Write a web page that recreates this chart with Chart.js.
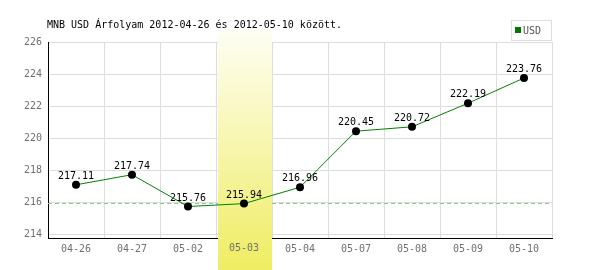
<!DOCTYPE html>
<html>
<head>
<meta charset="utf-8">
<script src="https://cdn.jsdelivr.net/npm/chart.js@4"></script>
<style>
  html, body { margin: 0; padding: 0; background: #fff; }
  #wrap { width: 600px; height: 270px; }
</style>
</head>
<body>
<div id="wrap"><canvas id="chart" width="600" height="270"></canvas></div>
<script>
// chart data
const dates = ['04-26', '04-27', '05-02', '05-03', '05-04', '05-07', '05-08', '05-09', '05-10'];
const usdRates = [217.11, 217.74, 215.76, 215.94, 216.96, 220.45, 220.72, 222.19, 223.76];
const yTicks = [214, 216, 218, 220, 222, 224, 226];
const highlightDate = '05-03';
const refLevel = 216;
const titleText = 'MNB USD Árfolyam 2012-04-26 és 2012-05-10 között.';
const seriesName = 'USD';

const MONO = '"DejaVu Sans Mono", "Liberation Mono", monospace';
const TICK_COLOR = '#707070';

// highlight band + dashed reference line, under the line
const bandPlugin = {
    id: 'band',
    beforeDatasetsDraw(chart) {
        const { ctx, chartArea, scales } = chart;
        const y = scales.y;

        // dashed line
        const yy = Math.round(y.getPixelForValue(refLevel)) + 0.5;
        ctx.save();
        ctx.strokeStyle = '#92c892';
        ctx.lineWidth = 1;
        ctx.setLineDash([4, 3]);
        ctx.beginPath();
        ctx.moveTo(chartArea.left, yy);
        ctx.lineTo(chartArea.right, yy);
        ctx.stroke();
        ctx.restore();

        // yellow band
        const i = dates.indexOf(highlightDate);
        const w = (chartArea.right - chartArea.left) / dates.length;
        const left = chartArea.left + i * w + 2;
        const top = 30;
        const bottom = chart.height;
        const g = ctx.createLinearGradient(0, top, 0, bottom);
        g.addColorStop(0, '#fefef4');
        g.addColorStop(1, '#efed62');
        ctx.save();
        ctx.fillStyle = g;
        ctx.fillRect(left, top, w - 2, bottom - top);
        ctx.restore();
    }
};

// title, legend, point labels
const textPlugin = {
    id: 'texts',
    afterDraw(chart) {
        const { ctx, scales } = chart;
        const meta = chart.getDatasetMeta(0);
        ctx.save();
        ctx.font = '10px ' + MONO;
        ctx.fillStyle = '#000';
        ctx.textBaseline = 'alphabetic';
        ctx.textAlign = 'left';
        ctx.fillText(titleText, 47, 28);

        // legend box
        ctx.strokeStyle = '#dddddd';
        ctx.lineWidth = 1;
        ctx.strokeRect(511.5, 20.5, 40, 20);
        ctx.fillStyle = '#007700';
        ctx.fillRect(515, 27, 6, 6);
        ctx.fillStyle = '#555';
        ctx.font = '10px ' + MONO;
        ctx.fillText(seriesName, 523, 34);

        // tick label of the highlighted day sits on the band
        const i = dates.indexOf(highlightDate);
        ctx.fillStyle = TICK_COLOR;
        ctx.textAlign = 'center';
        ctx.textBaseline = 'middle';
        ctx.fillText(highlightDate, scales.x.getPixelForValue(i), 248);

        // values above points
        ctx.font = '10px ' + MONO;
        ctx.fillStyle = '#000';
        ctx.textBaseline = 'alphabetic';
        meta.data.forEach((pt, k) => {
            ctx.fillText(usdRates[k].toFixed(2), pt.x, pt.y - 6);
        });
        ctx.restore();
    }
};

new Chart(document.getElementById('chart'), {
    type: 'line',
    data: {
        labels: dates,
        datasets: [{
            label: seriesName,
            data: usdRates,
            borderColor: '#008000',
            borderWidth: 1,
            tension: 0,
            pointRadius: 4,
            pointHoverRadius: 4,
            pointBackgroundColor: '#000',
            pointBorderColor: '#000',
            pointBorderWidth: 0
        }]
    },
    options: {
        responsive: false,
        animation: false,
        events: [],
        layout: { padding: { top: 42, right: 48, left: 0, bottom: 0 } },
        plugins: {
            legend: { display: false },
            tooltip: { enabled: false },
            title: { display: false }
        },
        scales: {
            x: {
                offset: true,
                grid: { offset: true, color: '#dddddd', drawTicks: false },
                border: { color: '#000', width: 1 },
                ticks: { color: TICK_COLOR, font: { family: MONO, size: 10 }, padding: 5, maxRotation: 0 },
                afterFit(scale) { scale.height = 32; }
            },
            y: {
                min: 213.8,
                max: 226,
                afterBuildTicks(scale) { scale.ticks = yTicks.map(v => ({ value: v })); },
                grid: { color: '#dddddd', drawTicks: false },
                border: { color: '#000', width: 1 },
                ticks: { color: TICK_COLOR, font: { family: MONO, size: 10 }, padding: 6 },
                afterFit(scale) { scale.width = 48; }
            }
        }
    },
    plugins: [bandPlugin, textPlugin]
});
</script>
</body>
</html>
